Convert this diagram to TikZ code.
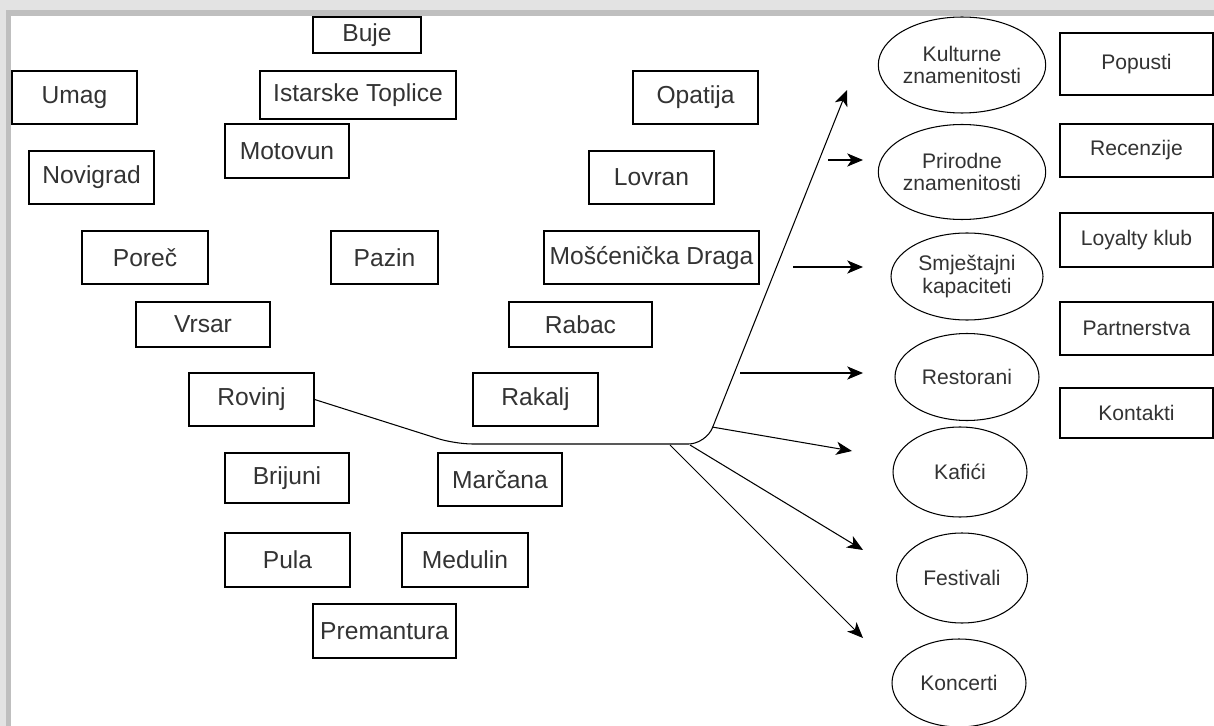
\documentclass[tikz,border=0pt]{standalone}
\usepackage{fontspec}
\setmainfont{Liberation Sans}
\usetikzlibrary{shapes.geometric,arrows.meta}
\definecolor{tekst}{HTML}{333333}
\tikzset{
  mjesto/.style={draw, line width=0.7pt, text=tekst, inner sep=0pt,
    minimum width=2.5cm, minimum height=1.06cm, font=\fontsize{14}{16}\selectfont},
  sadrzaj/.style={draw, ellipse, line width=0.6pt, text=tekst, inner sep=0pt,
    align=center, font=\fontsize{12}{13}\selectfont},
  opcija/.style={draw, line width=0.7pt, text=tekst, inner sep=0pt,
    minimum width=3.06cm, font=\fontsize{12}{14}\selectfont},
  veza/.style={line width=0.6pt, -{Stealth[length=9pt,width=7.5pt,inset=2.5pt]}}
}
\begin{document}
\begin{tikzpicture}[x=0.02cm, y=-0.02cm]
  % okvir
  \fill[gray!22] (0,0) rectangle (1214,726);
  \fill[gray!50] (6,10) rectangle (1214,726);
  \fill[white] (11,16) rectangle (1214,726);
  \useasboundingbox (0,0) rectangle (1214,726);

  % gradovi
  \node[mjesto, minimum width=2.16cm, minimum height=0.72cm] (buje) at (367,35) {Buje};
  \node[mjesto] (umag) at (74.5,97.5) {Umag};
  \node[mjesto, minimum width=3.92cm, minimum height=0.96cm] (toplice) at (358,95) {Istarske Toplice};
  \node[mjesto, minimum width=2.48cm, minimum height=1.08cm] (motovun) at (287,151) {Motovun};
  \node[mjesto] (novigrad) at (91.5,177.5) {Novigrad};
  \node[mjesto, minimum width=2.52cm] (porec) at (145,257.5) {Poreč};
  \node[mjesto, minimum width=2.14cm] (pazin) at (384.5,257.5) {Pazin};
  \node[mjesto, minimum width=2.68cm, minimum height=0.9cm] (vrsar) at (203,324.5) {Vrsar};
  \node[mjesto] (rovinj) at (251.5,399.5) {Rovinj};
  \node[mjesto, minimum width=2.48cm, minimum height=1cm] (brijuni) at (287,478) {Brijuni};
  \node[mjesto, minimum width=2.48cm] (marcana) at (500,479.5) {Marčana};
  \node[mjesto, minimum height=1.08cm] (pula) at (287.5,560) {Pula};
  \node[mjesto, minimum width=2.52cm, minimum height=1.08cm] (medulin) at (465,560) {Medulin};
  \node[mjesto, minimum width=2.86cm, minimum height=1.08cm] (premantura) at (384.5,631) {Premantura};
  \node[mjesto] (opatija) at (695.5,97.5) {Opatija};
  \node[mjesto] (lovran) at (651.5,177.5) {Lovran};
  \node[mjesto, minimum width=4.3cm] (draga) at (651.5,257.5) {Mošćenička Draga};
  \node[mjesto, minimum width=2.86cm, minimum height=0.9cm] (rabac) at (580.5,324.5) {Rabac};
  \node[mjesto] (rakalj) at (535.5,399.5) {Rakalj};

  % sadrzaji
  \node[sadrzaj, minimum width=3.22cm, minimum height=1.92cm] (kulturne) at (962,65) {Kulturne\\znamenitosti};
  \node[sadrzaj, minimum width=2.9cm, minimum height=1.9cm] (prirodne) at (962,172) {Prirodne\\znamenitosti};
  \node[sadrzaj, minimum width=3.04cm, minimum height=1.74cm] (smjestaj) at (967,276.5) {Smještajni\\kapaciteti};
  \node[sadrzaj, minimum width=2.88cm, minimum height=1.74cm] (restorani) at (967,377) {Restorani};
  \node[sadrzaj, minimum width=2.68cm, minimum height=1.8cm] (kafici) at (960,472) {Kafići};
  \node[sadrzaj, minimum width=2.62cm, minimum height=1.8cm] (festivali) at (962,578) {Festivali};
  \node[sadrzaj, minimum width=2.68cm, minimum height=1.76cm] (koncerti) at (959,683) {Koncerti};

  % opcije
  \foreach \y/\h/\t/\n in {64/1.24/Popusti/popusti, 150.5/1.06/Recenzije/recenzije,
      240/1.08/Loyalty klub/loyalty, 328.5/1.06/Partnerstva/partnerstva, 413/1/Kontakti/kontakti}{
    \node[opcija, minimum height=\h cm] (\n) at (1136.5,\y) {\t};
  }

  % strelice
  \coordinate (lom) at (455,444);
  \coordinate (kut) at (706,444);
  \coordinate (grana) at (712,427);
  \coordinate (k1) at (847,90);
  \coordinate (p0) at (828,160);   \coordinate (p1) at (863,160);
  \coordinate (s0) at (793,267);   \coordinate (s1) at (863,267);
  \coordinate (r0) at (740,373);   \coordinate (r1) at (863,373);
  \coordinate (f0) at (690,445);   \coordinate (f1) at (863,550);
  \coordinate (c0) at (670,445);   \coordinate (c1) at (863,638);
  \coordinate (a1) at (852,451);

  \draw[veza, rounded corners=10pt] (rovinj.east) -- (lom) -- (kut) -- (k1);
  \draw[veza] (p0) -- (p1);
  \draw[veza] (s0) -- (s1);
  \draw[veza] (r0) -- (r1);
  \draw[veza] (grana) -- (a1);
  \draw[veza] (f0) -- (f1);
  \draw[veza, line width=0.45pt] (c0) -- (c1);
\end{tikzpicture}
\end{document}
